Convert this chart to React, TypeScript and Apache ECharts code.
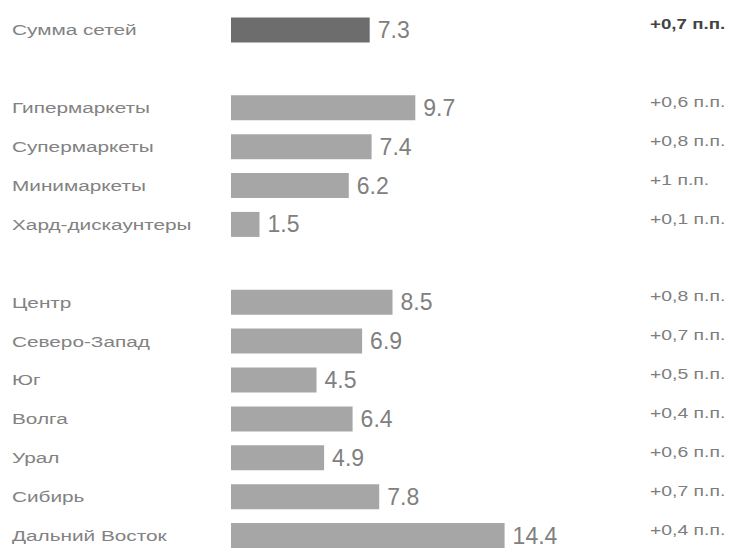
import React, { useEffect, useRef } from "react";
import * as echarts from "echarts";

const categories = [
  "Сумма сетей",
  "",
  "Гипермаркеты",
  "Супермаркеты",
  "Минимаркеты",
  "Хард-дискаунтеры",
  "",
  "Центр",
  "Северо-Запад",
  "Юг",
  "Волга",
  "Урал",
  "Сибирь",
  "Дальний Восток",
];

const values: (number | null)[] = [7.3, null, 9.7, 7.4, 6.2, 1.5, null, 8.5, 6.9, 4.5, 6.4, 4.9, 7.8, 14.4];

const changes = [
  "+0,7 п.п.",
  "",
  "+0,6 п.п.",
  "+0,8 п.п.",
  "+1 п.п.",
  "+0,1 п.п.",
  "",
  "+0,8 п.п.",
  "+0,7 п.п.",
  "+0,5 п.п.",
  "+0,4 п.п.",
  "+0,6 п.п.",
  "+0,7 п.п.",
  "+0,4 п.п.",
];

export default function App() {
  const ref = useRef<HTMLDivElement>(null);
  useEffect(() => {
    if (!ref.current) return;
    const chart = echarts.init(ref.current, null, { renderer: "svg" });
    const font = "'Liberation Sans', Arial, sans-serif";
    chart.setOption({
      animation: false,
      backgroundColor: "#ffffff",
      textStyle: { fontFamily: font },
      grid: { left: 231, top: 10.5, width: 380, height: 547, containLabel: false },
      xAxis: { type: "value", min: 0, max: 20, show: false },
      yAxis: [
        {
          type: "category",
          inverse: true,
          data: categories,
          position: "left",
          axisLine: { show: false },
          axisTick: { show: false },
          splitLine: { show: false },
          axisLabel: { show: false },
        },
        {
          type: "category",
          inverse: true,
          data: changes,
          position: "right",
          axisLine: { show: false },
          axisTick: { show: false },
          splitLine: { show: false },
          axisLabel: { show: false },
        },
      ],
      series: [
        {
          type: "bar",
          yAxisIndex: 0,
          barWidth: 25,
          data: values.map((v, i) =>
            v === null
              ? "-"
              : { value: v, itemStyle: { color: i === 0 ? "#6d6d6d" : "#a6a6a6" } }
          ),
          label: {
            show: true,
            position: "right",
            distance: 8,
            fontSize: 23,
            color: "#808080",
            fontFamily: font,
          },
        },
      ],
    });

    const graphics: any[] = [];
    categories.forEach((c, i) => {
      if (!c) return;
      const y = chart.convertToPixel({ yAxisIndex: 0 }, i) as number;
      graphics.push({
        type: "text",
        x: 12,
        y: y,
        scaleX: 1.34,
        silent: true,
        style: {
          text: c,
          fontSize: 15.5,
          fontFamily: font,
          fill: "#828282",
          align: "left",
          verticalAlign: "middle",
        },
      });
    });
    changes.forEach((c, i) => {
      if (!c) return;
      const y = chart.convertToPixel({ yAxisIndex: 1 }, i) as number;
      const bold = i === 0;
      graphics.push({
        type: "text",
        x: 650,
        y: y - 6,
        scaleX: bold ? 1.21 : 1.25,
        silent: true,
        style: {
          text: c,
          fontSize: 15.5,
          fontWeight: bold ? "bold" : "normal",
          fontFamily: font,
          fill: bold ? "#444444" : "#7d7d7d",
          align: "left",
          verticalAlign: "middle",
        },
      });
    });
    chart.setOption({ graphic: graphics });

    return () => chart.dispose();
  }, []);
  return (
    <div
      ref={ref}
      style={{ position: "fixed", left: 0, top: 0, width: 735, height: 555, background: "#fff" }}
    />
  );
}
